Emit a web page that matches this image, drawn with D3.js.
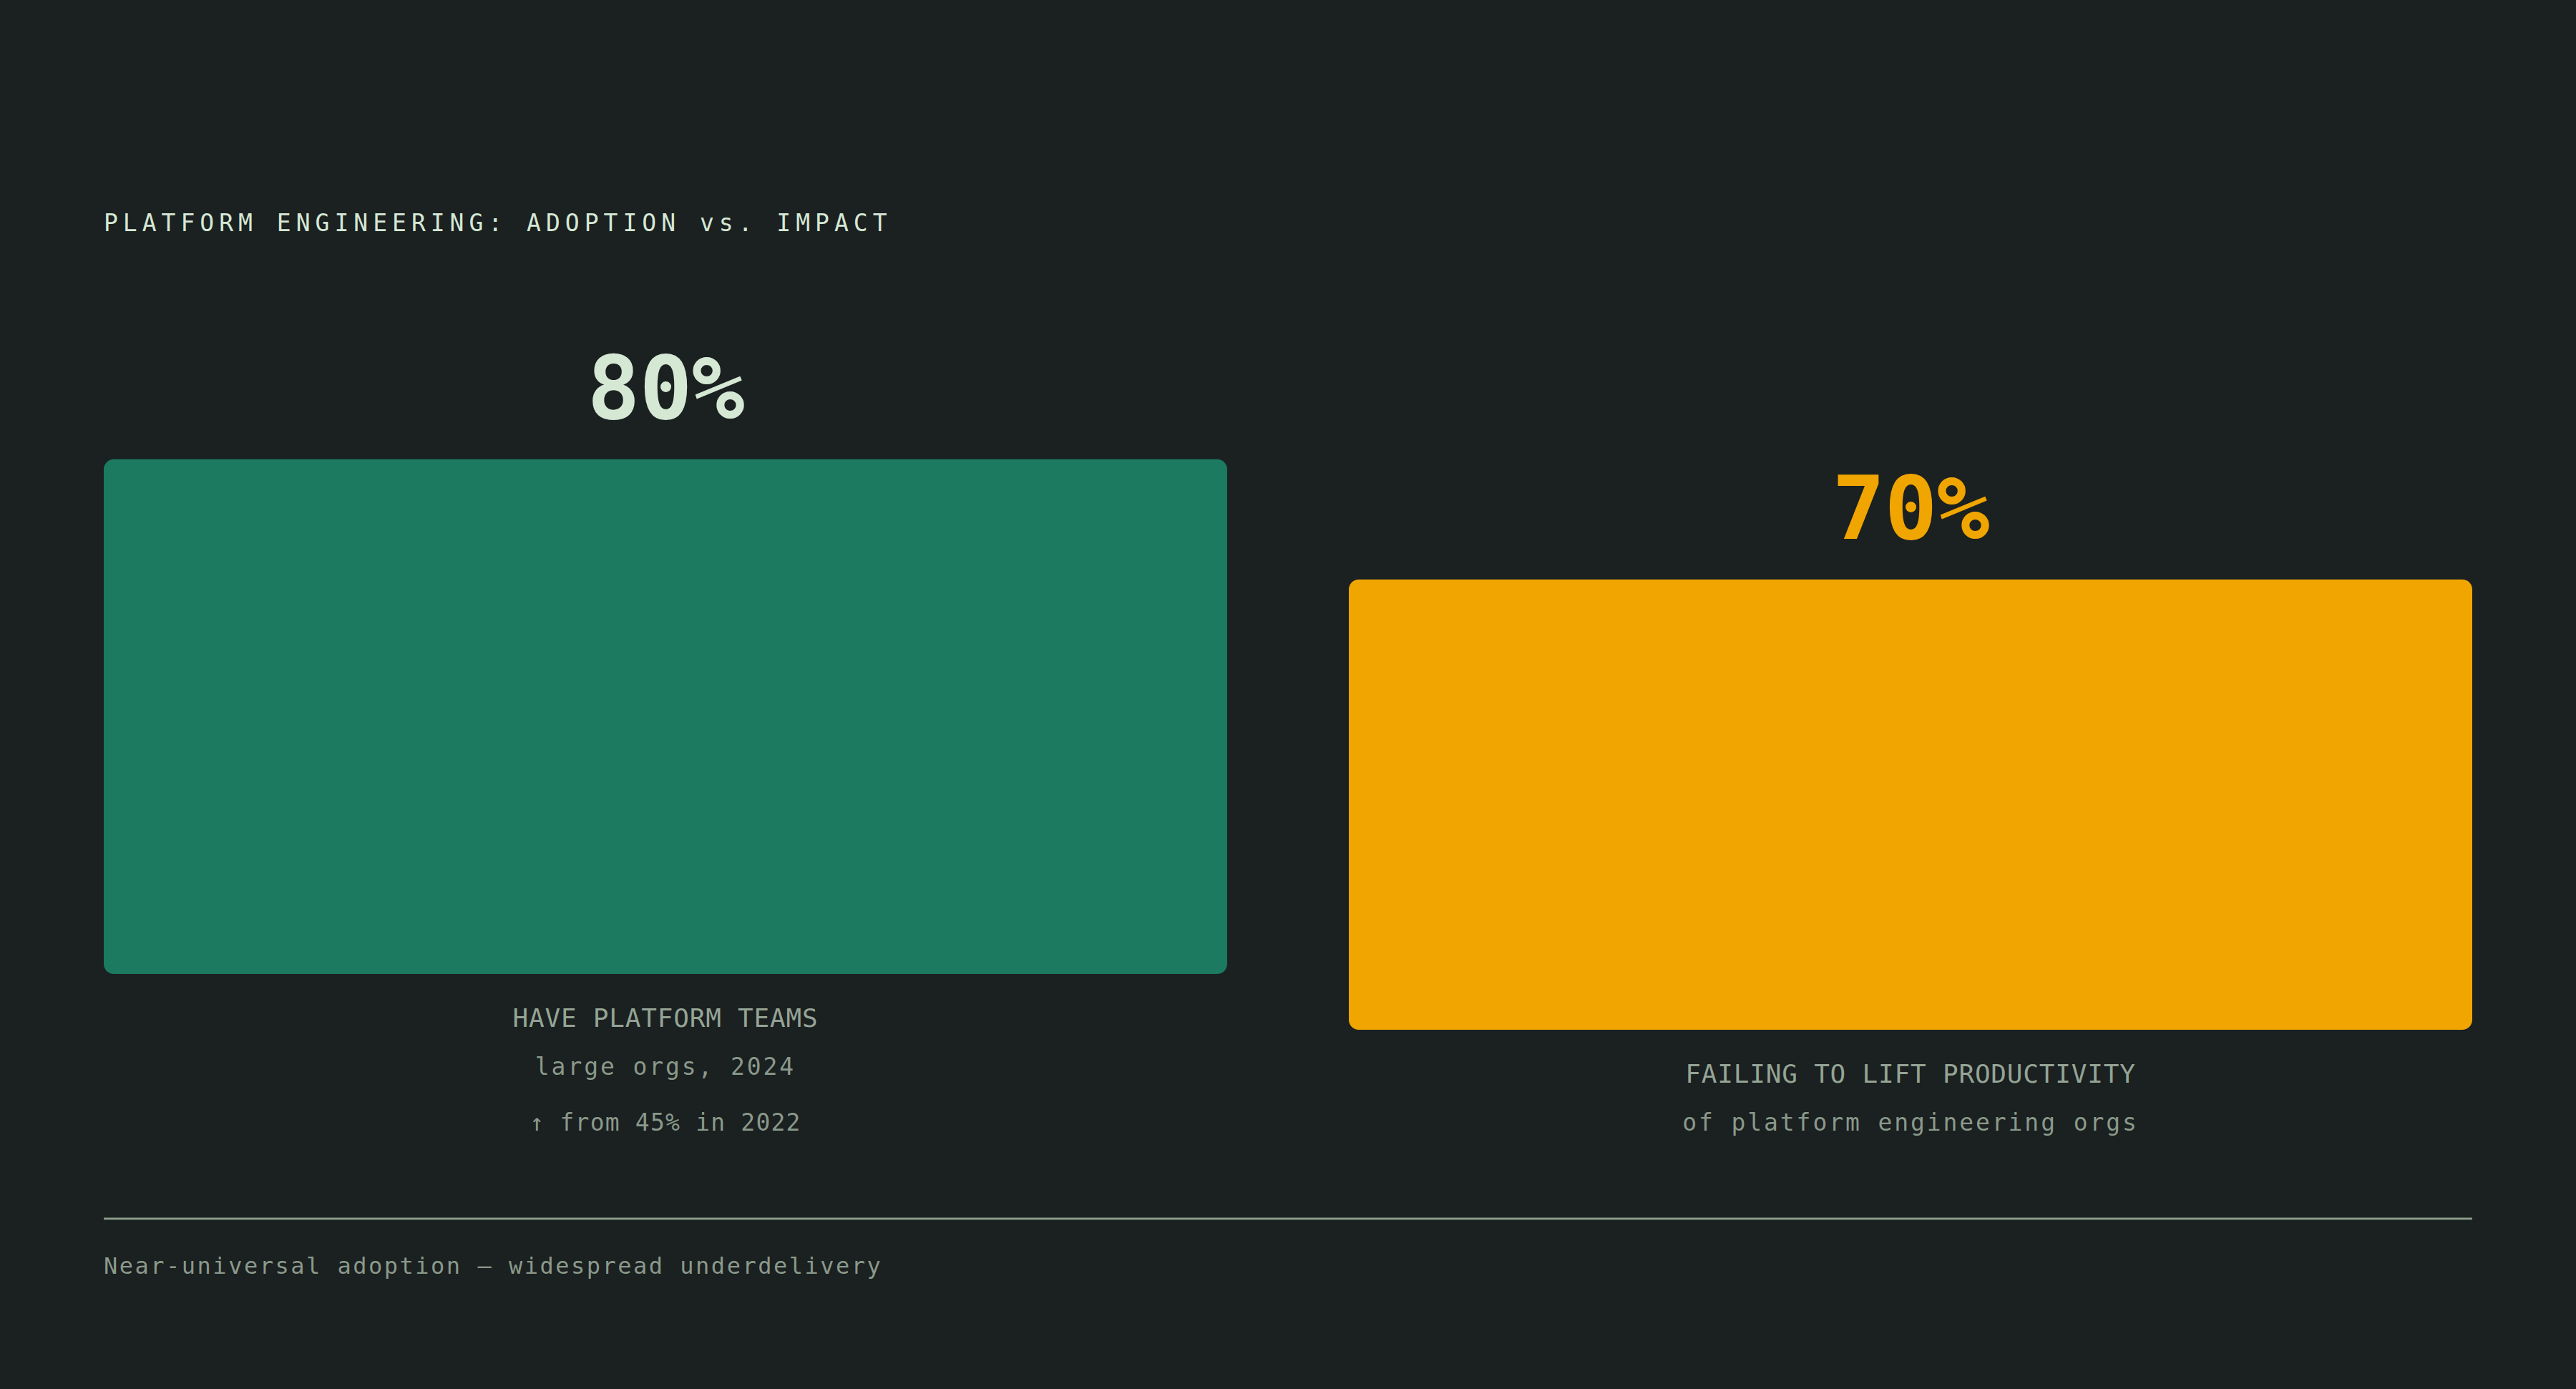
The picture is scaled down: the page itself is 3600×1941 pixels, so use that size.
<!DOCTYPE html>
<html>
<head>
<meta charset="utf-8">
<script src="https://cdn.jsdelivr.net/npm/d3@7"></script>
<style>
  html, body { margin: 0; padding: 0; background: #1b2021; }
  svg { display: block; }
  text { font-family: "DejaVu Sans Mono", "Liberation Mono", monospace; }
</style>
</head>
<body>
<div id="chart"></div>
<script>
// Data
const categories = ["adoption", "impact"];
const values = [80, 70];
const valueLabels = ["80%", "70%"];
const mainLabels = ["HAVE PLATFORM TEAMS", "FAILING TO LIFT PRODUCTIVITY"];
const subLabels = ["large orgs, 2024", "of platform engineering orgs"];
const notes = ["\u2191 from 45% in 2022", null];
const barColors = ["#1b7a5f", "#f0a500"];
const numberColors = ["#d5e8d4", "#f0a500"];

const title = "PLATFORM ENGINEERING: ADOPTION vs. IMPACT";
const footer = "Near-universal adoption \u2014 widespread underdelivery";

const W = 3600, H = 1941;
const left = 145, right = 3455;
const lastBaseline = 1580;   // columns are bottom-aligned on their last text line

const svg = d3.select("#chart")
    .append("svg")
    .attr("width", W)
    .attr("height", H);

svg.append("rect")
    .attr("width", W)
    .attr("height", H)
    .attr("fill", "#1b2021");

// Title
svg.append("text")
    .attr("x", left)
    .attr("y", 323)
    .attr("fill", "#d5e8d4")
    .attr("font-size", 33)
    .attr("letter-spacing", 7.0)
    .text(title);

// Scales
const x = d3.scaleBand()
    .domain(categories)
    .range([left, right])
    .paddingInner(170 / 1740)
    .paddingOuter(0);

const h = d3.scaleLinear()
    .domain([0, 100])
    .range([0, 899]);

const data = categories.map((c, i) => {
    const bottom = lastBaseline - (notes[i] ? 78 : 0) - 67 - 74;
    return {
        cat: c, value: values[i], label: valueLabels[i],
        main: mainLabels[i], sub: subLabels[i], note: notes[i],
        color: barColors[i], numColor: numberColors[i],
        bottom: bottom, top: bottom - h(values[i])
    };
});

const col = svg.selectAll("g.col")
    .data(data)
    .enter()
    .append("g")
    .attr("class", "col");

// Bars
col.append("rect")
    .attr("x", d => x(d.cat))
    .attr("y", d => d.top)
    .attr("width", x.bandwidth())
    .attr("height", d => d.bottom - d.top)
    .attr("rx", 14)
    .attr("ry", 14)
    .attr("fill", d => d.color);

const cx = d => x(d.cat) + x.bandwidth() / 2;

// Big value numbers
col.append("text")
    .attr("x", cx)
    .attr("y", d => d.top - 57)
    .attr("text-anchor", "middle")
    .attr("font-size", 123)
    .attr("font-weight", "bold")
    .attr("letter-spacing", -1)
    .attr("fill", d => d.numColor)
    .text(d => d.label);

// Labels under bars
col.append("text")
    .attr("x", cx)
    .attr("y", d => d.bottom + 74)
    .attr("text-anchor", "middle")
    .attr("font-size", 36)
    .attr("letter-spacing", 0.8)
    .attr("fill", "#95a495")
    .text(d => d.main);

col.append("text")
    .attr("x", cx)
    .attr("y", d => d.bottom + 141)
    .attr("text-anchor", "middle")
    .attr("font-size", 33)
    .attr("letter-spacing", 2.9)
    .attr("fill", "#8a998a")
    .text(d => d.sub);

col.filter(d => d.note)
    .append("text")
    .attr("x", cx)
    .attr("y", d => d.bottom + 219)
    .attr("text-anchor", "middle")
    .attr("font-size", 33)
    .attr("letter-spacing", 1.2)
    .attr("fill", "#8a998a")
    .text(d => d.note);

// Divider and footer
svg.append("line")
    .attr("x1", left)
    .attr("x2", right)
    .attr("y1", 1703)
    .attr("y2", 1703)
    .attr("stroke", "#8a998a")
    .attr("stroke-width", 3);

svg.append("text")
    .attr("x", left)
    .attr("y", 1780)
    .attr("fill", "#8a998a")
    .attr("font-size", 32)
    .attr("letter-spacing", 2.5)
    .text(footer);
</script>
</body>
</html>
